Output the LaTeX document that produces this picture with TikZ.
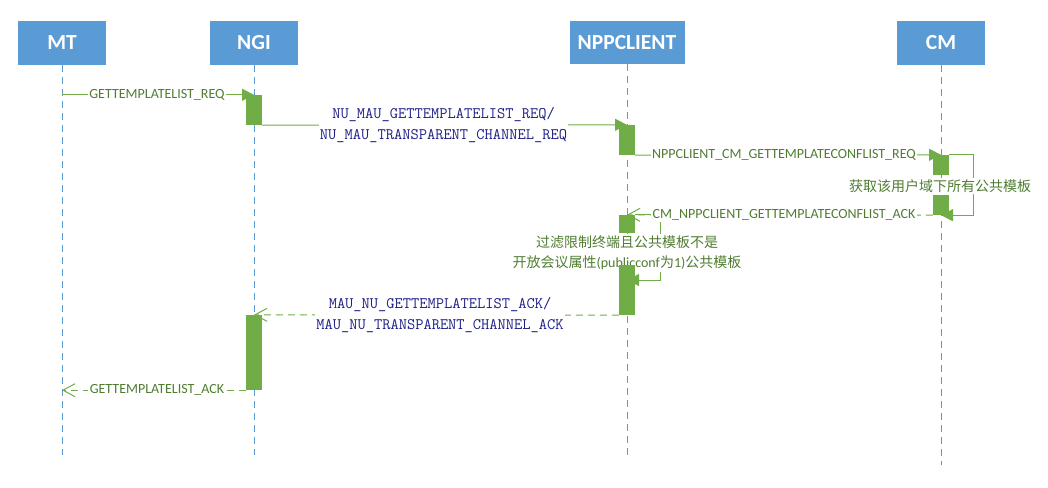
\documentclass[tikz,border=0pt]{standalone}
\usepackage{fontspec}
\setmainfont{Carlito}
\newfontfamily\cjk{Noto Sans CJK SC}
\usetikzlibrary{arrows.meta}
\pgfdeclarelayer{bglayer}
\pgfdeclarelayer{msglayer}
\pgfdeclarelayer{lbllayer}
\pgfsetlayers{bglayer,msglayer,lbllayer,main}
\definecolor{hdr}{RGB}{91,155,213}
\definecolor{life}{RGB}{91,155,213}
\definecolor{act}{RGB}{112,173,71}
\definecolor{gtxt}{RGB}{80,125,50}
\definecolor{ntxt}{RGB}{30,30,135}
\begin{document}
\begin{tikzpicture}[x=1pt,y=-1pt,
  hdrbox/.style={fill=hdr,draw=none,text=white,minimum height=43pt,inner sep=0pt,font=\fontsize{21.5}{25}\selectfont\bfseries},
  lifeline/.style={draw=life,line width=1pt,dash pattern=on 7pt off 5pt},
  actbox/.style={fill=act,draw=none,minimum width=16pt,inner sep=0pt},
  msg/.style={draw=act,line width=1pt,-{Triangle[length=12pt,width=12pt,fill=act]}},
  ret/.style={draw=act,line width=1pt,dash pattern=on 7pt off 5pt,-{Straight Barb[length=12pt,width=13pt]}},
  glbl/.style={fill=white,inner sep=1.5pt,text=gtxt,font=\fontsize{14}{20}\selectfont,align=center},
  nlbl/.style={fill=white,inner sep=1pt,text=ntxt,font=\ttfamily\fontsize{16}{20.5}\selectfont,align=center}]

\useasboundingbox (0,0) rectangle (1048,487);

% headers
\node[hdrbox,minimum width=88pt] (MT) at (62,43) {MT};
\node[hdrbox,minimum width=88pt] (NGI) at (254,43) {NGI};
\node[hdrbox,minimum width=115pt] (NPP) at (627,42.5) {NPPCLIENT};
\node[hdrbox,minimum width=88pt] (CM) at (941,43) {CM};

\coordinate (MTe) at (62,455);
\coordinate (NGIe) at (254,455);
\coordinate (NPPe) at (627,455);
\coordinate (CMe) at (941,465);

% activations
\node[actbox,minimum height=30pt] (a1) at (254,110) {};
\node[actbox,minimum height=30pt] (a2) at (627,140) {};
\node[actbox,minimum height=20pt] (a3) at (941,165) {};
\node[actbox,minimum height=20pt] (a4) at (941,205) {};
\node[actbox,minimum height=18pt] (a5) at (627,224) {};
\node[actbox,minimum height=50pt] (a6) at (627,290) {};
\node[actbox,minimum height=75pt] (a7) at (254,352.5) {};
\coordinate (l2) at (627,280);

\begin{pgfonlayer}{bglayer}
\draw[lifeline] (MT.south) -- (MTe);
\draw[lifeline] (NGI.south) -- (NGIe);
\draw[lifeline] (NPP.south) -- (NPPe);
\draw[lifeline] (CM.south) -- (CMe);
\end{pgfonlayer}

\begin{pgfonlayer}{msglayer}
\draw[msg] (MT.south |- a1.north) -- (a1.north);
\draw[msg] (a1.south east) -- (a2.north);
\draw[msg] (a2.south east) -- (a3.north);
\draw[msg] (a3.north east) -- ++(24,0) |- (a4.south);
\draw[ret] (a4.south west) -- (a5.north);
\draw[msg] (a5.north east) -- ++(25,0) |- (l2);
\draw[ret] (a6.south west) -- (a7.north);
\draw[ret] (a7.south west) -- (MT.south |- a7.south);
\end{pgfonlayer}

\begin{pgfonlayer}{lbllayer}
\node[glbl] (t1) at (157,95) {GETTEMPLATELIST\_REQ};
\node[nlbl] (t2) at (443.5,125) {NU\_MAU\_GETTEMPLATELIST\_REQ/\\NU\_MAU\_TRANSPARENT\_CHANNEL\_REQ};
\node[glbl] (t3) at (784,155) {NPPCLIENT\_CM\_GETTEMPLATECONFLIST\_REQ};
\node[glbl] (t4) at (940,186) {\cjk 获取该用户域下所有公共模板};
\node[glbl] (t5) at (784,215) {CM\_NPPCLIENT\_GETTEMPLATECONFLIST\_ACK};
\node[glbl] (t6) at (627,253) {{\cjk 过滤限制终端且公共模板不是}\\{\cjk 开放会议属性}(publicconf{\cjk 为}1){\cjk 公共模板}};
\node[nlbl] (t7) at (440,315) {MAU\_NU\_GETTEMPLATELIST\_ACK/\\MAU\_NU\_TRANSPARENT\_CHANNEL\_ACK};
\node[glbl] (t8) at (157,390) {GETTEMPLATELIST\_ACK};
\end{pgfonlayer}
\end{tikzpicture}
\end{document}
